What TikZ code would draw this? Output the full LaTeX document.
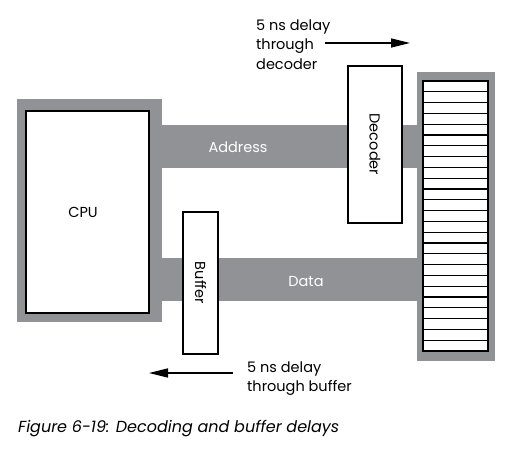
\documentclass[tikz,border=0pt]{standalone}
\usepackage{fontspec}
\setmainfont{Poppins}
\usetikzlibrary{arrows.meta,calc}
\definecolor{busgray}{RGB}{145,146,150}
\begin{document}
\begin{tikzpicture}[x=1pt,y=-1pt,
  box/.style={draw=black,line width=1.3pt,fill=white,inner sep=0pt,outer sep=0pt,font=\fontsize{14.5}{17}\selectfont},
  buslbl/.style={text=white,font=\fontsize{14.5}{17}\selectfont},
  note/.style={align=left,inner sep=0pt,font=\fontsize{14.5}{19.5}\selectfont},
  delay/.style={-{Triangle[length=19pt,width=9pt]},line width=1.4pt}]
\useasboundingbox (0,0) rectangle (514,455);
% gray backgrounds
\fill[busgray] (17,99) rectangle (162,322);
\fill[busgray] (417,72) rectangle (495,361);
\fill[busgray] (162,125) rectangle (417,168);
\fill[busgray] (162,258) rectangle (417,301);
\node[buslbl] (addr) at (238,147) {Address};
\node[buslbl] (data) at (306,282) {Data};
% boxes
\node[box,minimum width=123pt,minimum height=202pt] (cpu) at (87.5,212) {\hspace*{-9pt}CPU};
\node[box,minimum width=54pt,minimum height=157pt] (dec) at (375,144.5) {\rotatebox{-90}{Decoder}};
\node[box,minimum width=35pt,minimum height=142pt] (buf) at (200.5,283) {\rotatebox{-90}{Buffer}};
\node[box,minimum width=65pt,minimum height=270pt] (mem) at (455.5,216) {};
\foreach \i in {1,...,24}{
  \draw[line width=1.1pt] ($(mem.north west)!\i/25!(mem.south west)$) -- ($(mem.north east)!\i/25!(mem.south east)$);
}
% notes
\node[note,anchor=base west] (n1) at (256,69) {5 ns delay\\through\\decoder};
\coordinate (a1) at (325,43);
\coordinate (a2) at (410,43);
\draw[delay] (a1) -- (a2);
\node[note,anchor=base west] (n2) at (247,391.5) {5 ns delay\\through buffer};
\coordinate (b1) at (233,373);
\coordinate (b2) at (149,373);
\draw[delay] (b1) -- (b2);
\node[anchor=base west,inner sep=0pt,font=\itshape\fontsize{16}{18}\selectfont] (cap) at (18,432) {Figure 6-19: Decoding and buffer delays};
\end{tikzpicture}
\end{document}
